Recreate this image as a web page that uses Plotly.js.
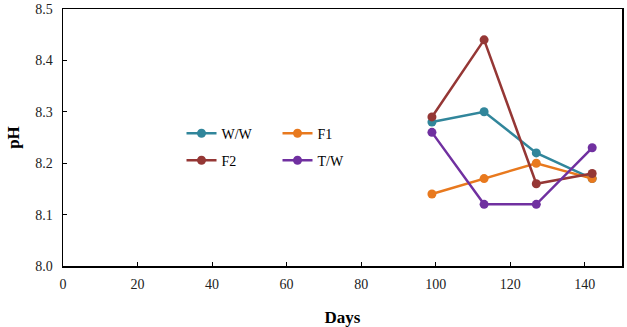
<!DOCTYPE html>
<html><head><meta charset="utf-8">
<script src="https://cdn.plot.ly/plotly-3.0.1.min.js"></script>
<style>html,body{margin:0;padding:0;background:#fff}</style>
</head><body>
<div id="chart" style="width:627px;height:327px"></div>
<script>
const days = [99, 113, 127, 142];
const seriesNames = ["W/W", "F1", "F2", "T/W"];
const ww = [8.28, 8.30, 8.22, 8.17];
const f1 = [8.14, 8.17, 8.20, 8.17];
const f2 = [8.29, 8.44, 8.16, 8.18];
const tw = [8.26, 8.12, 8.12, 8.23];
const xTicks = [0, 20, 40, 60, 80, 100, 120, 140];
const yTicks = [8.0, 8.1, 8.2, 8.3, 8.4, 8.5];
const colors = ["#31869B", "#E8791E", "#953735", "#7030A0"];
const values = [ww, f1, f2, tw];
const legends = ["legend", "legend", "legend2", "legend2"];
const font = "Liberation Serif";

const traces = values.map((v, i) => ({
  x: days, y: v, name: seriesNames[i], type: "scatter", mode: "lines+markers",
  line: {color: colors[i], width: 2.5},
  marker: {color: colors[i], size: 9},
  legend: legends[i]
}));

const axisCommon = {
  showline: true, linecolor: "#000", linewidth: 1.5, mirror: true,
  ticks: "inside", ticklen: 4, tickcolor: "#000", tickwidth: 1,
  showgrid: false, zeroline: false,
  tickfont: {family: font, size: 14, color: "#222"}
};

const legendCommon = {
  orientation: "h", xanchor: "left", yanchor: "middle",
  font: {family: font, size: 14, color: "#000"},
  bgcolor: "rgba(0,0,0,0)", entrywidth: 51, entrywidthmode: "pixels",
  itemwidth: 30, tracegroupgap: 0
};

const layout = {
  width: 627, height: 327,
  margin: {l: 63, r: 5, t: 9, b: 61},
  paper_bgcolor: "#fff", plot_bgcolor: "#fff",
  showlegend: true,
  xaxis: Object.assign({}, axisCommon, {
    range: [0, 150], tickvals: xTicks, ticktext: xTicks.map(String),
    ticklabelstandoff: 5,
    title: {text: "<b>Days</b>", font: {family: font, size: 17, color: "#000"}, standoff: 22}
  }),
  yaxis: Object.assign({}, axisCommon, {
    range: [8.0, 8.5], tickvals: yTicks, ticktext: yTicks.map(t => t.toFixed(1)),
    ticklabelstandoff: 6,
    title: {text: "<b>pH</b>", font: {family: font, size: 17, color: "#000"}, standoff: 11}
  }),
  legend: Object.assign({}, legendCommon, {x: 0.212, y: 0.515}),
  legend2: Object.assign({}, legendCommon, {x: 0.212, y: 0.41})
};

Plotly.newPlot("chart", traces, layout, {displayModeBar: false, staticPlot: true});
</script>
</body></html>
